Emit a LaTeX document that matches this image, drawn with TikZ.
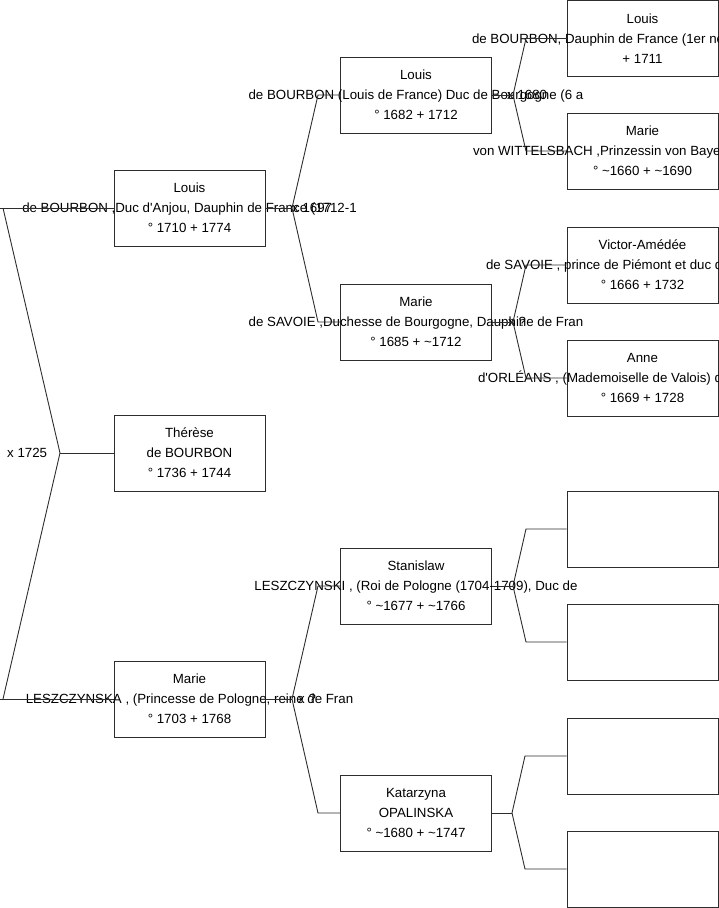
\documentclass[tikz,border=0pt]{standalone}
\usepackage{fontspec}
\setmainfont{Liberation Sans}[Ligatures=TeXOff]
\definecolor{ln}{RGB}{45,45,45}
\tikzset{
  box/.style={draw=ln, line width=0.9pt, minimum width=151pt, minimum height=76pt, inner sep=0pt},
  txt/.style={font=\fontsize{13.3}{20}\selectfont, align=center, inner sep=0pt, text=black},
  link/.style={draw=ln, line width=0.9pt},
  lbl/.style={font=\fontsize{13.3}{15}\selectfont, anchor=west, inner sep=0pt, text=black}
}
\newcommand{\tl}{\textasciitilde}
\begin{document}
\begin{tikzpicture}[x=1pt,y=-1pt]
\useasboundingbox (0,0) rectangle (719,908);
\clip (0,0) rectangle (719,908);
% generation 1
\node[box] (L1) at (189.5,208) {};
\node[box] (TH) at (189.5,453) {};
\node[box] (M1) at (189.5,699) {};
% generation 2
\node[box] (L2) at (416,95) {};
\node[box] (M2) at (416,322) {};
\node[box] (S2) at (416,586) {};
\node[box] (K2) at (416,813) {};
% generation 3
\node[box] (G1) at (642.5,38.5) {};
\node[box] (G2) at (642.5,151) {};
\node[box] (G3) at (642.5,265) {};
\node[box] (G4) at (642.5,378) {};
\node[box] (G5) at (642.5,529) {};
\node[box] (G6) at (642.5,642) {};
\node[box] (G7) at (642.5,756) {};
\node[box] (G8) at (642.5,869) {};
% texts
\node[txt] (tL1) at (L1) {Louis\\de BOURBON ,Duc d'Anjou, Dauphin de France (1712-1\\° 1710 + 1774};
\node[txt] (tTH) at (TH) {Thérèse\\de BOURBON\\° 1736 + 1744};
\node[txt] (tM1) at (M1) {Marie\\LESZCZYNSKA , (Princesse de Pologne, reine de Fran\\° 1703 + 1768};
\node[txt] (tL2) at (L2) {Louis\\de BOURBON (Louis de France) Duc de Bourgogne (6 a\\° 1682 + 1712};
\node[txt] (tM2) at (M2) {Marie\\de SAVOIE ,Duchesse de Bourgogne, Dauphine de Fran\\° 1685 + \tl1712};
\node[txt] (tS2) at (S2) {Stanislaw\\LESZCZYNSKI , (Roi de Pologne (1704-1709), Duc de\hspace{3.6pt}\\° \tl1677 + \tl1766};
\node[txt] (tK2) at (K2) {Katarzyna\\OPALINSKA\\° \tl1680 + \tl1747};
\node[txt] (tG1) at (G1) {Louis\\\makebox[341pt][l]{de BOURBON, Dauphin de France (1er ne}\\+ 1711};
\node[txt] (tG2) at (G2) {Marie\\\makebox[339pt][l]{von WITTELSBACH ,Prinzessin von Bayer}\\° \tl1660 + \tl1690};
\node[txt] (tG3) at (G3) {Victor-Amédée\\\makebox[313pt][l]{de SAVOIE , prince de Piémont et duc de}\\° 1666 + 1732};
\node[txt] (tG4) at (G4) {Anne\\\makebox[329pt][l]{d'ORLÉANS , (Mademoiselle de Valois) de}\\° 1669 + 1728};
% marriage labels
\node[lbl] (x0) at (7,453) {x 1725};
\node[lbl] (x1) at (292,208) {x 1697};
\node[lbl] (x2) at (298,699) {x ?};
\node[lbl] (x3) at (507,95) {x 1680};
\node[lbl] (x4) at (508,322) {x ?};
% branch coordinates
\coordinate (a0) at (0,208);
\coordinate (a1) at (3,208);
\coordinate (m0) at (60,453);
\coordinate (a2) at (3,699);
\coordinate (a3) at (0,699);
\coordinate (b1) at (292,208);
\coordinate (c1a) at (318,95);
\coordinate (c1b) at (318,322);
\coordinate (b2) at (292,699);
\coordinate (c2a) at (318,586);
\coordinate (c2b) at (318,813);
\coordinate (b3) at (513,95);
\coordinate (c3a) at (526,38.5);
\coordinate (c3b) at (526,151);
\coordinate (b4) at (513,322);
\coordinate (c4a) at (526,265);
\coordinate (c4b) at (526,378);
\coordinate (b5) at (513,586);
\coordinate (c5a) at (526,529);
\coordinate (c5b) at (526,642);
\coordinate (b6) at (512,813);
\coordinate (c6a) at (525,756);
\coordinate (c6b) at (525,869);
% connectors
\draw[link] (a0) -- (L1.west);
\draw[link] (a1) -- (m0) -- (a2);
\draw[link] (m0) -- (TH.west);
\draw[link] (a3) -- (M1.west);
\draw[link] (L1.east) -- (b1);
\draw[link] (b1) -- (c1a) -- (L2.west);
\draw[link] (b1) -- (c1b) -- (M2.west);
\draw[link] (M1.east) -- (b2);
\draw[link] (b2) -- (c2a) -- (S2.west);
\draw[link] (b2) -- (c2b) -- (K2.west);
\draw[link] (L2.east) -- (b3);
\draw[link] (b3) -- (c3a) -- (G1.west);
\draw[link] (b3) -- (c3b) -- (G2.west);
\draw[link] (M2.east) -- (b4);
\draw[link] (b4) -- (c4a) -- (G3.west);
\draw[link] (b4) -- (c4b) -- (G4.west);
\draw[link] (S2.east) -- (b5);
\draw[link] (b5) -- (c5a) -- (G5.west);
\draw[link] (b5) -- (c5b) -- (G6.west);
\draw[link] (K2.east) -- (b6);
\draw[link] (b6) -- (c6a) -- (G7.west);
\draw[link] (b6) -- (c6b) -- (G8.west);
\end{tikzpicture}
\end{document}
